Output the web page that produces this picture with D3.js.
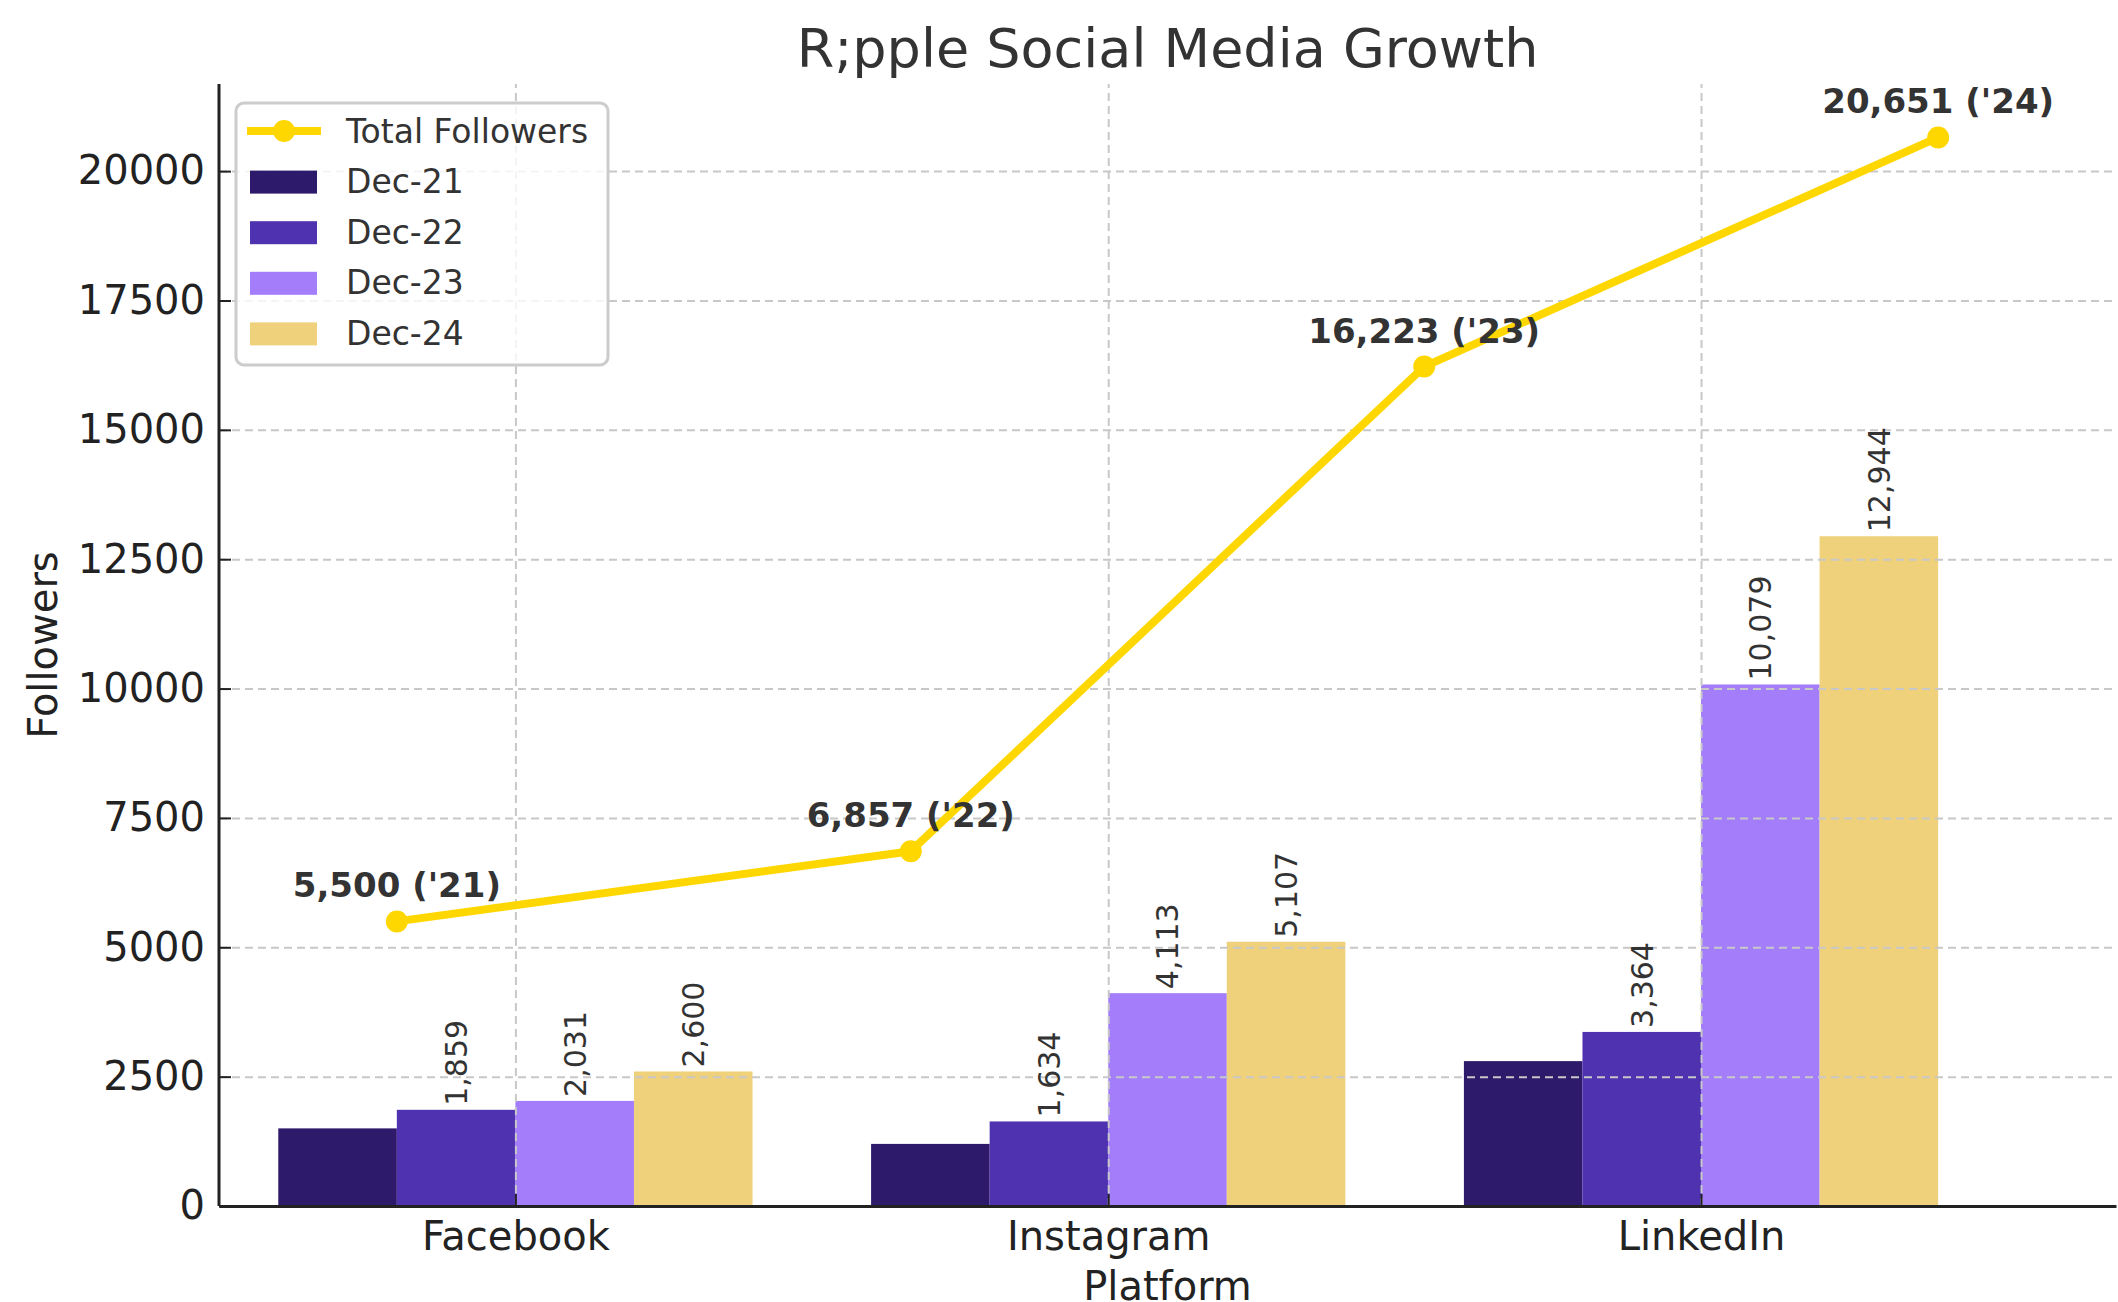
<!DOCTYPE html>
<html>
<head>
<meta charset="utf-8">
<script src="https://cdn.jsdelivr.net/npm/d3@7"></script>
<style>
body { margin: 0; background: #fff; }
svg { display: block; font-family: "DejaVu Sans", sans-serif; }
</style>
</head>
<body>
<div id="chart"></div>
<script>
// data
var platforms = ["Facebook", "Instagram", "LinkedIn"];
var periods = ["Dec-21", "Dec-22", "Dec-23", "Dec-24"];
var dec21 = [1500, 1200, 2800];
var dec22 = [1859, 1634, 3364];
var dec23 = [2031, 4113, 10079];
var dec24 = [2600, 5107, 12944];
var totals = [5500, 6857, 16223, 20651];
var totalYears = ["'21", "'22", "'23", "'24"];
var totalPos = [-0.2, 0.667, 1.533, 2.4];   // x position of each total, in platform units
var yTicks = [0, 2500, 5000, 7500, 10000, 12500, 15000, 17500, 20000];
var colors = ["#2e1a6b", "#4f32b0", "#a47dfb", "#f0d17b"];

var series = [dec21, dec22, dec23, dec24];
var width = 2118, height = 1302;
var plotLeft = 219, plotRight = 2116, plotTop = 84, plotBottom = 1206;
var barW = 0.2;
var offsets = [-0.3, -0.1, 0.1, 0.3];

var svg = d3.select("#chart").append("svg")
    .attr("width", width)
    .attr("height", height);

var x = d3.scaleLinear().domain([-0.5, 2.7]).range([plotLeft, plotRight]);
var y = d3.scaleLinear().domain([0, 21683.55]).range([plotBottom, plotTop]);
var fmt = d3.format(",");

// bars
var bars = [];
series.forEach(function (vals, s) {
    vals.forEach(function (v, i) {
        bars.push({ s: s, i: i, v: v });
    });
});

svg.selectAll(".bar")
    .data(bars)
    .enter().append("rect")
    .attr("class", "bar")
    .attr("x", function (d) { return x(d.i + offsets[d.s] - barW / 2); })
    .attr("width", function (d) { return x(barW) - x(0); })
    .attr("y", function (d) { return y(d.v); })
    .attr("height", function (d) { return y(0) - y(d.v); })
    .attr("fill", function (d) { return colors[d.s]; });

// grid (drawn over bars, like the original)
var gridY = svg.append("g")
    .attr("transform", "translate(" + plotLeft + ",0)")
    .call(d3.axisLeft(y).tickValues(yTicks.slice(1)).tickSize(-(plotRight - plotLeft)).tickFormat(""));
var gridX = svg.append("g")
    .attr("transform", "translate(0," + plotBottom + ")")
    .call(d3.axisBottom(x).tickValues([0, 1, 2]).tickSize(-(plotBottom - plotTop)).tickFormat(""));
[gridY, gridX].forEach(function (g) {
    g.select(".domain").remove();
    g.selectAll("line")
        .attr("stroke", "#c8c8c8")
        .attr("stroke-width", 2)
        .attr("stroke-dasharray", "8,5");
});

// value labels (skip Dec-21)
svg.selectAll(".vlabel")
    .data(bars.filter(function (d) { return d.s > 0; }))
    .enter().append("text")
    .attr("class", "vlabel")
    .attr("transform", function (d) {
        return "translate(" + x(d.i + offsets[d.s]) + "," + (y(d.v) - 4) + ") rotate(-90)";
    })
    .attr("dy", "0.36em")
    .attr("text-anchor", "start")
    .style("font-size", "30px")
    .style("fill", "#333")
    .text(function (d) { return fmt(d.v); });

// total line
var pts = totals.map(function (v, i) { return { x: totalPos[i], v: v, yr: totalYears[i] }; });
var line = d3.line()
    .x(function (d) { return x(d.x); })
    .y(function (d) { return y(d.v); });

svg.append("path")
    .datum(pts)
    .attr("d", line)
    .attr("fill", "none")
    .attr("stroke", "#ffd700")
    .attr("stroke-width", 8)
    .attr("stroke-linejoin", "round");

svg.selectAll(".dot")
    .data(pts)
    .enter().append("circle")
    .attr("cx", function (d) { return x(d.x); })
    .attr("cy", function (d) { return y(d.v); })
    .attr("r", 11)
    .attr("fill", "#ffd700");

svg.selectAll(".tlabel")
    .data(pts)
    .enter().append("text")
    .attr("x", function (d) { return x(d.x); })
    .attr("y", function (d) { return y(d.v) - 24; })
    .attr("text-anchor", "middle")
    .style("font-size", "34px")
    .style("font-weight", "bold")
    .style("fill", "#333")
    .text(function (d) { return fmt(d.v) + " (" + d.yr + ")"; });

// axes
var yAxis = svg.append("g")
    .attr("transform", "translate(" + plotLeft + ",0)")
    .call(d3.axisLeft(y).tickValues(yTicks).tickSizeInner(-12).tickSizeOuter(0).tickPadding(14).tickFormat(d3.format("d")));
var xAxis = svg.append("g")
    .attr("transform", "translate(0," + plotBottom + ")")
    .call(d3.axisBottom(x).tickValues([0, 1, 2]).tickSizeInner(-12).tickSizeOuter(0).tickPadding(16)
        .tickFormat(function (i) { return platforms[i]; }));

yAxis.select(".domain").attr("d", "M0," + plotTop + "V" + plotBottom);
[yAxis, xAxis].forEach(function (g) {
    g.select(".domain").attr("stroke", "#222").attr("stroke-width", 3);
    g.selectAll(".tick line").attr("stroke", "#222").attr("stroke-width", 2);
    g.selectAll(".tick text")
        .style("font-size", "40px")
        .style("font-family", "DejaVu Sans")
        .style("fill", "#222");
});

// titles
svg.append("text")
    .attr("x", (plotLeft + plotRight) / 2)
    .attr("y", 67)
    .attr("text-anchor", "middle")
    .style("font-size", "54px")
    .style("fill", "#333")
    .text("R;pple Social Media Growth");

svg.append("text")
    .attr("x", (plotLeft + plotRight) / 2)
    .attr("y", 1300)
    .attr("text-anchor", "middle")
    .style("font-size", "40px")
    .style("fill", "#222")
    .text("Platform");

svg.append("text")
    .attr("transform", "translate(57," + (plotTop + plotBottom) / 2 + ") rotate(-90)")
    .attr("text-anchor", "middle")
    .style("font-size", "40px")
    .style("fill", "#222")
    .text("Followers");

// legend
var legend = svg.append("g").attr("transform", "translate(236,103)");
legend.append("rect")
    .attr("width", 372)
    .attr("height", 262)
    .attr("rx", 8)
    .attr("fill", "white")
    .attr("fill-opacity", 0.8)
    .attr("stroke", "#cccccc")
    .attr("stroke-width", 3);

var rowY = function (k) { return 28 + k * 50.6; };

legend.append("line")
    .attr("x1", 11).attr("x2", 85)
    .attr("y1", rowY(0)).attr("y2", rowY(0))
    .attr("stroke", "#ffd700")
    .attr("stroke-width", 8);
legend.append("circle")
    .attr("cx", 48).attr("cy", rowY(0)).attr("r", 11)
    .attr("fill", "#ffd700");
legend.append("text")
    .attr("x", 110).attr("y", rowY(0))
    .attr("dy", "0.35em")
    .style("font-size", "33px")
    .style("fill", "#333")
    .text("Total Followers");

periods.forEach(function (p, k) {
    legend.append("rect")
        .attr("x", 14).attr("y", rowY(k + 1) - 11)
        .attr("width", 67).attr("height", 23)
        .attr("fill", colors[k]);
    legend.append("text")
        .attr("x", 110).attr("y", rowY(k + 1))
        .attr("dy", "0.35em")
        .style("font-size", "33px")
        .style("fill", "#333")
        .text(p);
});
</script>
</body>
</html>
